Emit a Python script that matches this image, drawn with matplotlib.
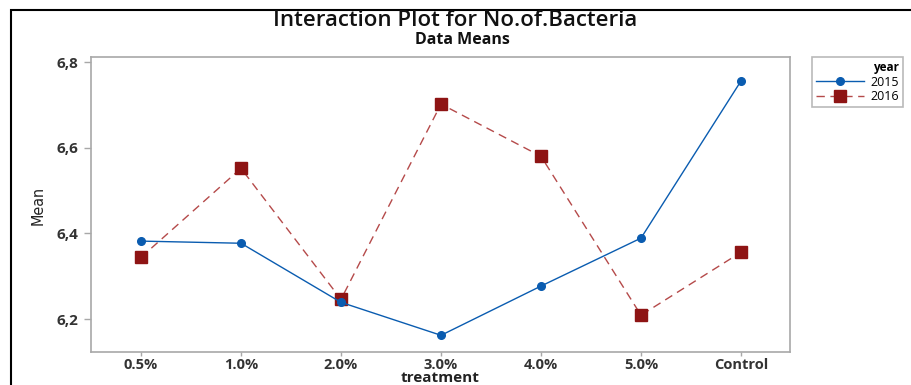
import matplotlib.pyplot as plt
from matplotlib.patches import Rectangle

treatments = ['0.5%', '1.0%', '2.0%', '3.0%', '4.0%', '5.0%', 'Control']
mean_2015 = [6.382, 6.377, 6.239, 6.162, 6.277, 6.389, 6.756]
mean_2016 = [6.344, 6.552, 6.246, 6.702, 6.580, 6.209, 6.356]
yticks = [6.2, 6.4, 6.6, 6.8]
ytick_labels = ['6,2', '6,4', '6,6', '6,8']

plt.rcParams['font.family'] = ['Open Sans', 'DejaVu Sans']

W, H = 912, 385
fig = plt.figure(figsize=(W / 100, H / 100), dpi=100)
ax = fig.add_axes([91 / W, 1 - 352 / H, (790 - 91) / W, (352 - 57) / H])

x = range(len(treatments))
ax.plot(x, mean_2015, color='#0a5cb0', lw=1.0, marker='o', ms=5.5,
        mec='#0a5cb0', mfc='#0a5cb0', label='2015', zorder=3)
ax.plot(x, mean_2016, color='#b54a4a', lw=1.0, ls=(0, (6, 4)), marker='s',
        ms=8, mfc='#8e1414', mec='#8e1414', label='2016', zorder=2)

ax.set_xlim(-0.5, 6.49)
ax.set_ylim(6.123, 6.812)
ax.set_xticks(list(x))
ax.set_xticklabels(treatments, fontsize=10.5, fontweight='bold', color='#333333')
ax.set_yticks(yticks)
ax.set_yticklabels(ytick_labels, fontsize=11, fontweight='bold', color='#333333')
for s in ax.spines.values():
    s.set_color('#a8a8a8')
    s.set_linewidth(1.2)
ax.tick_params(axis='y', colors='#a8a8a8', length=5, width=1, labelcolor='#333333', pad=4)
ax.tick_params(axis='x', colors='#a8a8a8', length=3, width=1, labelcolor='#333333', pad=1)

fig.text(440 / W, 1 - 378 / H, 'treatment', ha='center', va='center',
         fontsize=11, fontweight='bold', color='#222222')
fig.text(38 / W, 1 - 205 / H, 'Mean', rotation=90, ha='center', va='center',
         fontsize=11.5, family=['Liberation Sans Narrow', 'DejaVu Sans'],
         fontstretch='condensed', color='#222222')

fig.text(455 / W, 1 - 20 / H, 'Interaction Plot for No.of.Bacteria', ha='center',
         va='center', fontsize=16, fontweight='semibold', color='#111111')
fig.text(462 / W, 1 - 40 / H, 'Data Means', ha='center', va='center',
         fontsize=11.5, fontweight='bold', color='#111111')

leg = fig.legend(loc='upper left', bbox_to_anchor=(812 / W, 1 - 57 / H),
                 title='year', fontsize=9, title_fontsize=8.5, frameon=True,
                 fancybox=False, edgecolor='#a8a8a8', borderpad=0.35,
                 handlelength=3.8, handletextpad=0.5, labelspacing=0.1,
                 alignment='right', borderaxespad=0)
leg.get_title().set_fontweight('bold')
leg.get_frame().set_linewidth(1.2)

# outer frame lines of the screenshot
fig.add_artist(Rectangle((11 / W, -0.1), 1.2, 1 - 10 / H + 0.1,
                         transform=fig.transFigure, fill=False,
                         edgecolor='black', lw=1.5))

fig.savefig('out.png', dpi=100)
